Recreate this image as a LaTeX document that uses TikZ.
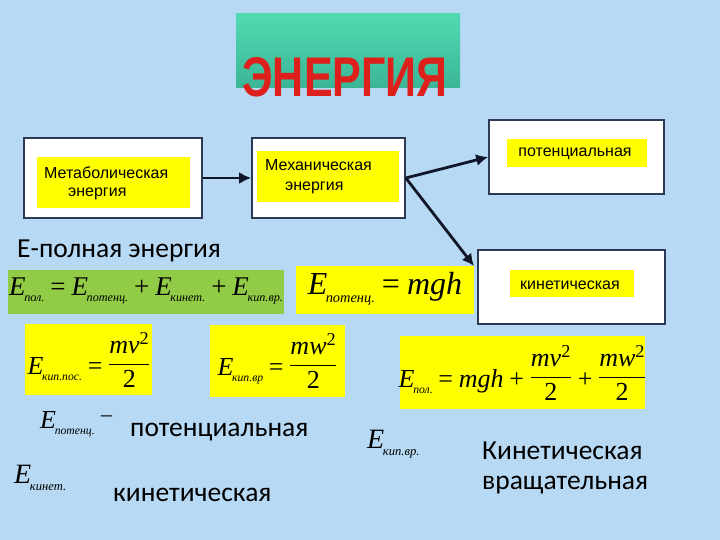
\documentclass[tikz,border=0pt]{standalone}
\usepackage{graphicx}
\usepackage{fontspec}
\setmainfont{Carlito}
\newfontfamily\tms{Liberation Serif}
\newfontfamily\ars{Liberation Sans}
\usetikzlibrary{arrows.meta}
\definecolor{bg}{RGB}{183,217,243}
\definecolor{tealtop}{RGB}{82,218,178}
\definecolor{tealbot}{RGB}{58,182,150}
\definecolor{ttlred}{RGB}{222,32,28}
\definecolor{ylw}{RGB}{255,255,0}
\definecolor{grn}{RGB}{146,204,70}
\definecolor{frame}{RGB}{44,58,84}
\definecolor{arrc}{RGB}{16,22,40}
\newcommand\EE[1]{\textit{E}\kern-0.05em\raisebox{-0.5ex}{\scalebox{0.45}{\textit{#1}}}}
\newcommand\op[1]{\hspace{0.22em}#1\hspace{0.22em}}
\newcommand\myfr[2]{\raisebox{0.14em}{$\displaystyle{\hbox{#1}\above 1.2pt\hbox{#2}}$}}
\begin{document}
\begin{tikzpicture}[x=1pt,y=-1pt,
  outerbox/.style={draw=frame,line width=1.6pt,fill=white,inner sep=0pt},
  ybox/.style={fill=ylw,inner sep=0pt},
  gbox/.style={fill=grn,inner sep=0pt},
  boxtxt/.style={font=\ars\fontsize{16}{18}\selectfont,inner sep=0pt,anchor=west},
  bigtxt/.style={font=\fontsize{27.5}{30}\selectfont,inner sep=0pt},
  frm/.style={font=\tms\fontsize{26}{28}\selectfont,inner sep=0pt},
  arr/.style={draw=arrc,line width=2.8pt,-{Latex[length=12pt,width=12pt]}}]
\fill[bg] (0,0) rectangle (720,540);
\useasboundingbox (0,0) rectangle (720,540);
% title
\shade[top color=tealtop,bottom color=tealbot] (236,14) rectangle (460,88);
\node[inner sep=0pt,text=ttlred,font=\ars\bfseries\fontsize{43}{43}\selectfont,yscale=1.3] (title) at (345,77) {ЭНЕРГИЯ};
% boxes
\node[outerbox,minimum width=178pt,minimum height=80pt] (meta) at (113,178) {};
\node[ybox,minimum width=153pt,minimum height=51pt] (metaY) at (113.5,182.5) {};
\node[boxtxt] (metaT1) at (44,173) {Метаболическая};
\node[boxtxt] (metaT2) at (68,194) {энергия};
\node[outerbox,minimum width=153pt,minimum height=80pt] (mech) at (328.5,178) {};
\node[ybox,minimum width=142pt,minimum height=51pt] (mechY) at (328,176.5) {};
\node[boxtxt] (mechT1) at (265,165) {Механическая};
\node[boxtxt] (mechT2) at (285,188) {энергия};
\node[outerbox,minimum width=175pt,minimum height=74pt] (pot) at (576.5,157) {};
\node[ybox,minimum width=140pt,minimum height=28pt] (potY) at (577,153) {};
\node[boxtxt,anchor=center] (potT) at (575,154) {потенциальная};
\node[outerbox,minimum width=187pt,minimum height=74pt] (kin) at (571.5,287) {};
\node[ybox,minimum width=124pt,minimum height=27pt] (kinY) at (572,283.5) {};
\node[boxtxt,anchor=center] (kinT) at (570,285) {кинетическая};
\coordinate (kinTip) at (474,266);
\draw[arr] (meta.east) -- (mech.west);
\draw[arr] (mech.east) -- (pot.west);
\draw[arr] (mech.east) -- (kinTip);
% full energy
\node[bigtxt,anchor=west] (full) at (17,251) {Е-полная энергия};
\node[gbox,minimum width=276pt,minimum height=44pt] (gEq) at (146,292) {};
\node[frm,font=\tms\fontsize{27}{29}\selectfont] (gEqT) at (146,291) {\EE{пол.}\op{=}\EE{потенц.}\op{+}\EE{кинет.}\op{+}\EE{кип.вр.}};
\node[ybox,minimum width=178pt,minimum height=48pt] (pEq) at (385,290) {};
\node[frm,font=\tms\fontsize{32}{34}\selectfont] (pEqT) at (385,289) {\EE{потенц.}\op{=}\textit{mgh}};
% row 3
\node[ybox,minimum width=127pt,minimum height=71pt] (k1) at (88.5,359.5) {};
\node[frm,font=\tms\fontsize{26}{28}\selectfont] (k1T) at (89,360) {\EE{кип.пос.}\op{=}\myfr{\textit{mv}\textsuperscript{2}}{2}};
\node[ybox,minimum width=135pt,minimum height=72pt] (k2) at (277.5,361) {};
\node[frm,font=\tms\fontsize{26}{28}\selectfont] (k2T) at (277.5,361) {\EE{кип.вр}\op{=}\myfr{\textit{mw}\textsuperscript{2}}{2}};
\node[ybox,minimum width=245pt,minimum height=73pt] (tot) at (522.5,372.5) {};
\node[frm] (totT) at (522.5,373) {\EE{пол.}\op{=}\textit{mgh}\op{+}\myfr{\textit{mv}\textsuperscript{2}}{2}\op{+}\myfr{\textit{mw}\textsuperscript{2}}{2}};
% legend
\node[frm,font=\tms\fontsize{26}{28}\selectfont,anchor=west] (lp) at (40,424) {\EE{потенц.}};
\node[frm,font=\tms\fontsize{22}{24}\selectfont,anchor=west] (lpd) at (101,419) {–};
\node[bigtxt,anchor=west] (lpt) at (130,432) {потенциальная};
\node[frm,font=\tms\fontsize{28}{30}\selectfont,anchor=west] (lk) at (14,478) {\EE{кинет.}};
\node[bigtxt,anchor=west] (lkt) at (113,495) {кинетическая};
\node[frm,font=\tms\fontsize{28}{30}\selectfont,anchor=west] (lr) at (367,444) {\EE{кип.вр.}};
\node[bigtxt,anchor=west] (lrt1) at (482,451) {Кинетическая};
\node[bigtxt,anchor=west] (lrt2) at (482,485) {вращательная};
\end{tikzpicture}
\end{document}
